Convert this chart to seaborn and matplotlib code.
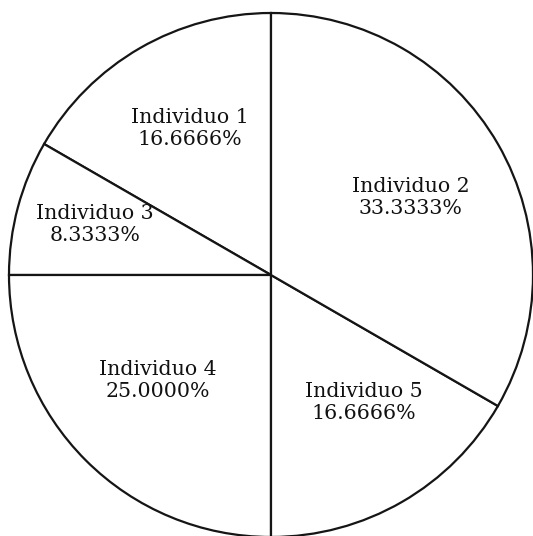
import numpy as np
import seaborn as sns
from matplotlib import pyplot as plt

# wedges in drawing order (counter-clockwise from 12 o'clock)
names = ['Individuo 1', 'Individuo 3', 'Individuo 4', 'Individuo 5', 'Individuo 2']
counts = [2, 1, 3, 2, 4]

# label placement (fraction of radius, angle nudge in degrees)
label_dist = [0.64, 0.70, 0.59, 0.60, 0.61]
label_nudge = [-1, -1, -2, 6, -1]

sns.set_style('white')
plt.rcParams['font.family'] = ['DejaVu Serif']

fig = plt.figure(figsize=(5.33, 5.36), dpi=100)
ax = fig.add_axes([0, 0, 1, 1])

wedges, _ = ax.pie(counts, startangle=90, counterclock=True,
                   colors=['white'] * len(counts),
                   wedgeprops={'edgecolor': '#151515', 'linewidth': 1.6})

total = sum(counts)
for w, name, c, d, n in zip(wedges, names, counts, label_dist, label_nudge):
    pct = np.floor(100.0 * c / total * 10000) / 10000
    ang = np.deg2rad((w.theta1 + w.theta2) / 2 + n)
    ax.text(d * np.cos(ang), d * np.sin(ang), '{}\n{:.4f}%'.format(name, pct),
            ha='center', va='center', fontsize=14.8, linespacing=1.2,
            color='#111111')

# circle centre sits at (271, 275) px from top-left, radius 262 px
ax.set_aspect('auto')
ax.set_xlim(-271 / 262, 262 / 262)
ax.set_ylim(-261 / 262, 275 / 262)
ax.axis('off')

fig.savefig('out.png', dpi=100, facecolor='white')
